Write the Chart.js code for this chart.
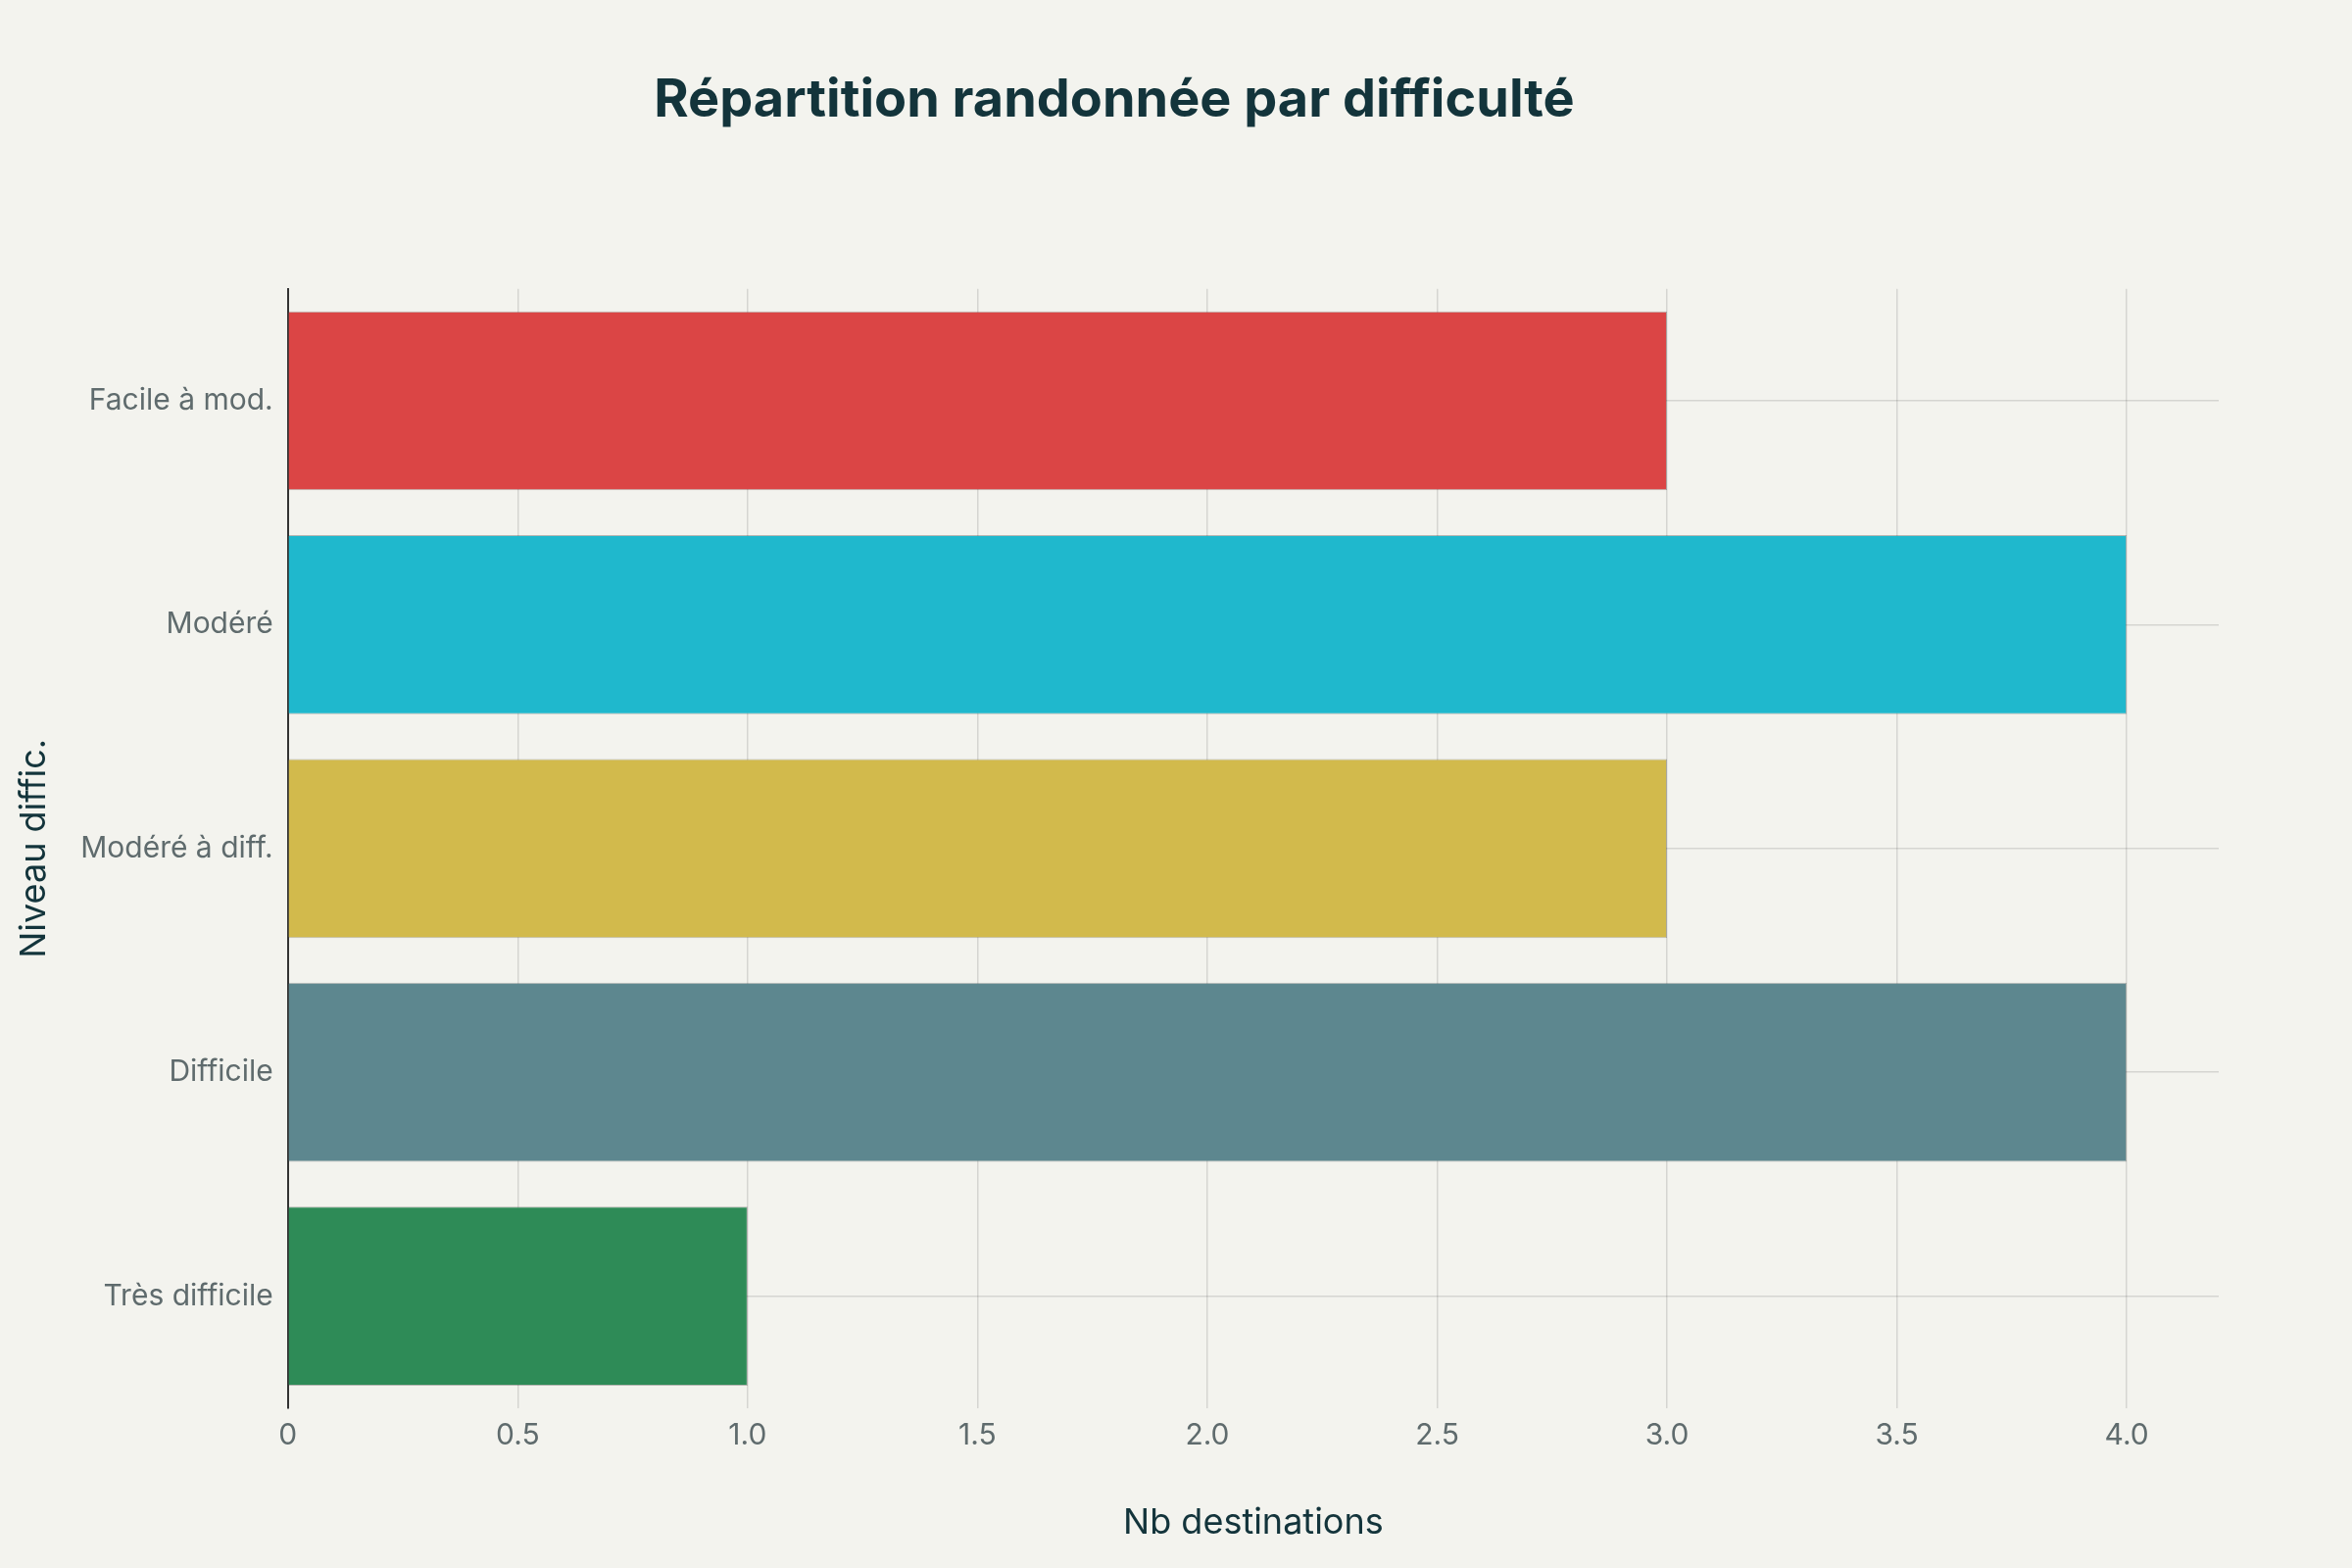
<!DOCTYPE html>
<html><head><meta charset="utf-8">
<script src="https://cdn.jsdelivr.net/npm/chart.js@4/dist/chart.umd.min.js"></script>
<style>html,body{margin:0;padding:0;background:#F3F3EE}#w{width:2400px;height:1600px}</style>
</head><body><div id="w"><canvas id="c"></canvas></div>
<script>
const categories = ["Facile à mod.", "Modéré", "Modéré à diff.", "Difficile", "Très difficile"];
const values = [3, 4, 3, 4, 1];
const colors = ["#DB4545", "#1FB8CD", "#D2BA4C", "#5D878F", "#2E8B57"];
const xTicks = [0, 0.5, 1, 1.5, 2, 2.5, 3, 3.5, 4];
Chart.defaults.font.family = "Inter, 'Noto Sans', sans-serif";
new Chart(document.getElementById('c'), {
  type: 'bar',
  data: { labels: categories, datasets: [{ data: values, backgroundColor: colors, borderColor: "rgba(0,0,0,0.25)", borderWidth: 1, categoryPercentage: 0.8, barPercentage: 1 }] },
  options: {
    indexAxis: 'y', responsive: true, maintainAspectRatio: false, animation: false,
    layout: { padding: { left: 10, right: 136, top: 20, bottom: 20 } },
    plugins: {
      legend: { display: false }, tooltip: { enabled: false },
      title: { display: true, text: "Répartition randonnée par difficulté", color: "#13343B", font: { size: 54, weight: 'bold' }, padding: { top: 50, bottom: 160 } }
    },
    scales: {
      x: { min: 0, max: 4.2,
        afterBuildTicks: s => { s.ticks = xTicks.map(v => ({ value: v })); },
        ticks: { color: "#5F6B6D", font: { size: 30 }, padding: 10 },
        grid: { color: "rgba(0,0,0,0.12)", lineWidth: 1.5, drawTicks: false },
        border: { display: false },
        title: { display: true, text: "Nb destinations", color: "#13343B", font: { size: 36 }, padding: { top: 40 } } },
      y: {
        ticks: { color: "#5F6B6D", font: { size: 30 }, padding: 15 },
        grid: { color: "rgba(0,0,0,0.12)", lineWidth: 1.5, drawTicks: false, offset: false },
        border: { color: "#333", width: 2 },
        title: { display: true, text: "Niveau diffic.", color: "#13343B", font: { size: 36 }, padding: { bottom: 10 } } }
    }
  }
});
</script></body></html>
